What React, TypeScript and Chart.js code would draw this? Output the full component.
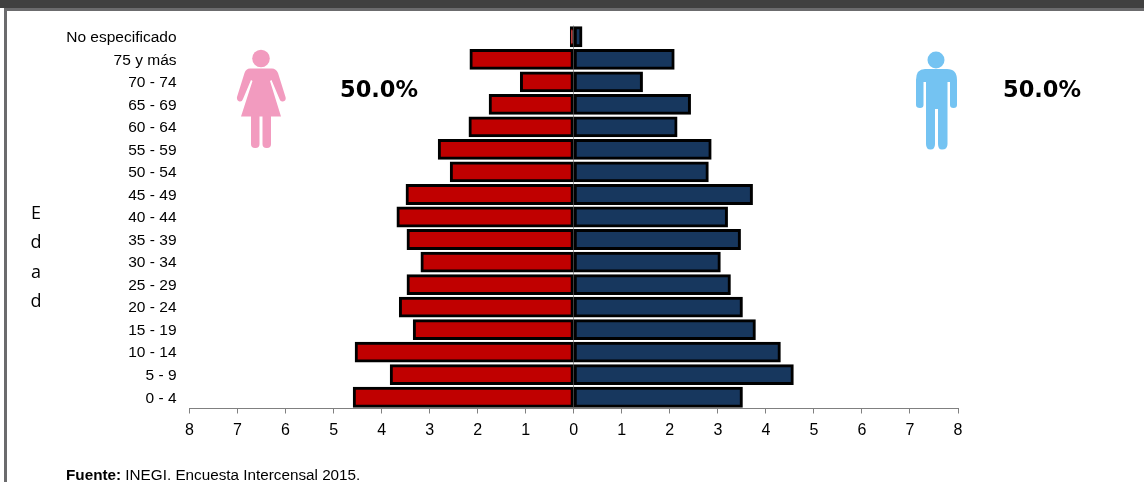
import React, { useEffect, useRef } from "react";
import { Chart, registerables } from "chart.js";

Chart.register(...registerables);

const categories = ["No especificado","75 y más","70 - 74","65 - 69","60 - 64","55 - 59","50 - 54","45 - 49","40 - 44","35 - 39","30 - 34","25 - 29","20 - 24","15 - 19","10 - 14","5 - 9","0 - 4"];
const mujeres = [-0.07,-2.16,-1.11,-1.76,-2.18,-2.82,-2.57,-3.49,-3.68,-3.47,-3.18,-3.47,-3.63,-3.34,-4.55,-3.82,-4.59];
const hombres = [0.17,2.09,1.43,2.43,2.15,2.86,2.8,3.72,3.2,3.47,3.05,3.26,3.51,3.78,4.3,4.57,3.51];
const xMin = -8;
const xMax = 8;
const edadLetters = ["E","d","a","d"];
const edadTops = [200,229,259,288];

const abs: React.CSSProperties = { position: "absolute" };

export default function App() {
  const ref = useRef<HTMLCanvasElement>(null);
  useEffect(() => {
    const chart = new Chart(ref.current!, {
      type: "bar",
      data: {
        labels: categories,
        datasets: [
          { label: "Mujeres", data: mujeres, backgroundColor: "#C00000", borderColor: "#000000", borderWidth: 3, inflateAmount: 0.5, barPercentage: 0.88, categoryPercentage: 1, borderSkipped: false },
          { label: "Hombres", data: hombres, backgroundColor: "#17375E", borderColor: "#000000", borderWidth: 3, inflateAmount: 0.5, barPercentage: 0.88, categoryPercentage: 1, borderSkipped: false },
        ] as any,
      },
      options: {
        indexAxis: "y",
        responsive: false,
        animation: false,
        layout: { padding: { top: 25.5, right: 186, left: 0, bottom: 0 } },
        plugins: { legend: { display: false }, title: { display: false }, tooltip: { enabled: false } },
        scales: {
          x: {
            stacked: true,
            min: xMin,
            max: xMax,
            afterFit: (s: any) => { s.height = 73.5; },
            border: { color: "#808080", width: 1 },
            grid: {
              drawOnChartArea: true,
              color: (c: any) => (c.tick && c.tick.value === 0 ? "#9a9a9a" : "rgba(0,0,0,0)"),
              tickColor: "#808080",
              tickLength: 5,
              lineWidth: 1,
            },
            ticks: {
              stepSize: 1,
              maxRotation: 0,
              padding: 7,
              color: "#000000",
              font: { family: "Liberation Sans", size: 16 },
              callback: (v: any) => String(Math.abs(Number(v))),
            },
          },
          y: {
            stacked: true,
            afterFit: (s: any) => { s.width = 189.5; },
            border: { display: false },
            grid: { display: false, drawTicks: false },
            ticks: {
              padding: 13,
              autoSkip: false,
              labelOffset: 1,
              color: "#000000",
              font: { family: "Liberation Sans", size: 15.5 },
            },
          },
        },
      },
    });
    return () => chart.destroy();
  }, []);

  return (
    <div style={{ position: "fixed", left: 0, top: 0, width: 1144, height: 482, background: "#fff", overflow: "hidden" }}>
      <canvas ref={ref} width={1144} height={482} style={{ ...abs, left: 0, top: 0, width: 1144, height: 482 }} />
      <div style={{ ...abs, left: 0, top: 0, width: 1144, height: 8, background: "#404040" }} />
      <div style={{ ...abs, left: 4, top: 8, width: 1140, height: 3, background: "#6b6b6d" }} />
      <div style={{ ...abs, left: 4, top: 8, width: 3, height: 474, background: "#6b6b6d" }} />
      {edadLetters.map((l, i) => (
        <div key={i} style={{ ...abs, left: 28, top: edadTops[i], width: 16, textAlign: "center", fontFamily: "Open Sans", fontSize: 18, lineHeight: "24px", color: "#000" }}>{l}</div>
      ))}
      <div style={{ ...abs, left: 340, top: 73, fontFamily: "DejaVu Sans", fontWeight: 700, fontSize: 22.5, lineHeight: "32px", color: "#000" }}>50.0%</div>
      <div style={{ ...abs, left: 1003, top: 73, fontFamily: "DejaVu Sans", fontWeight: 700, fontSize: 22.5, lineHeight: "32px", color: "#000" }}>50.0%</div>
      <div style={{ ...abs, left: 66, top: 467, fontFamily: "Liberation Sans", fontSize: 14, lineHeight: "16px", color: "#000", whiteSpace: "nowrap", transformOrigin: "0 0", transform: "scaleX(1.09)" }}>
        <b>Fuente:</b> INEGI. Encuesta Intercensal 2015.
      </div>
      <svg width={1144} height={482} style={{ ...abs, left: 0, top: 0 }}>
        <g fill="#F29BBF">
          <circle cx={261} cy={58.5} r={8.8} />
          <path d="M250 68.5 H272 Q276 68.5 278 73 L285.5 97 Q286.5 101 283 101.5 Q280.5 102 279.5 99 L271.5 80 L270 81 L281 116.5 H241 L252.5 81 L251 80 L243 99 Q242 102 239.5 101.5 Q236.5 101 237 97 L244.5 73 Q246 68.5 250 68.5 Z" />
          <rect x={251} y={112} width={8.5} height={36} rx={4} />
          <rect x={262.5} y={112} width={8.5} height={36} rx={4} />
        </g>
        <g fill="#74C3F2">
          <circle cx={936} cy={60} r={8.5} />
          <path d="M925 69 H947 Q957 69 957 80 V105 Q957 108 953.5 108 Q950 108 950 105 V82 H947.5 V144 Q947.5 149.5 942 149.5 Q938 149.5 938 144 V109 H935 V144 Q935 149.5 930.5 149.5 Q926 149.5 926 144 V82 H923.5 V105 Q923.5 108 920 108 Q916 108 916 105 V80 Q916 69 925 69 Z" />
        </g>
      </svg>
    </div>
  );
}
